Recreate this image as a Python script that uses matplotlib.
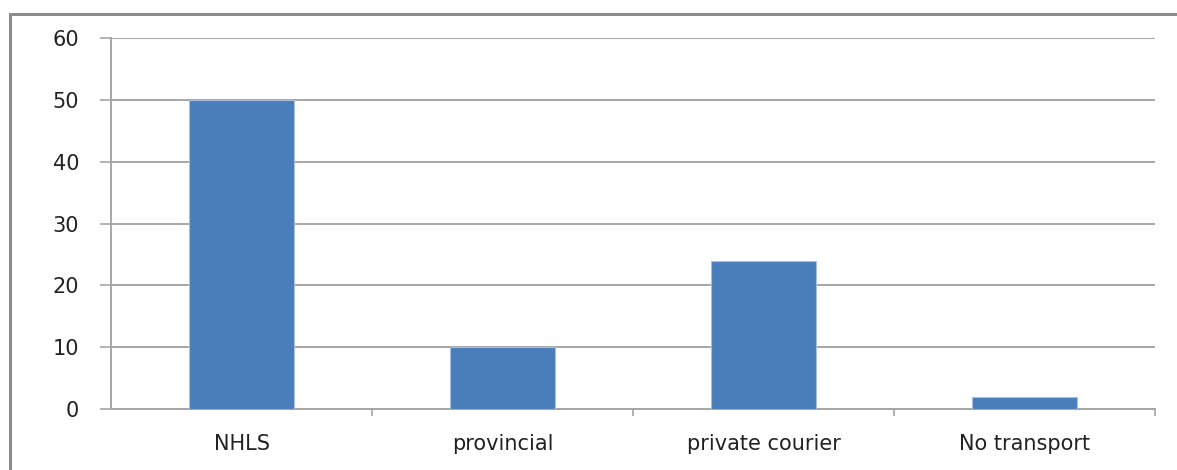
import numpy as np
import matplotlib.pyplot as plt
from matplotlib.patches import Rectangle

# data
kategori = ['NHLS', 'provincial', 'private courier', 'No transport']
nilai = [50, 10, 24, 2]
y_ticks = [0, 10, 20, 30, 40, 50, 60]

fig = plt.figure(figsize=(11.77, 4.70), dpi=100)
ax = fig.add_axes([111 / 1177, 61 / 470, 1044 / 1177, 371 / 470])

# bingkai luar (terpotong di kanan dan bawah)
fig.patches.append(Rectangle((10 / 1177, -0.1), 1.2, 0.1 + 456 / 470,
                             transform=fig.transFigure, fill=False,
                             edgecolor='#8c8c8c', linewidth=2.2, zorder=0))

x = np.arange(len(kategori))
ax.bar(x, nilai, width=0.4, color='#4a7ebb', edgecolor='#a8bfdf',
       linewidth=0.8, zorder=3)

ax.set_xlim(-0.5, len(kategori) - 0.5)
ax.set_ylim(0, 60)
ax.set_yticks(y_ticks)
ax.set_yticklabels([str(v) for v in y_ticks])
ax.grid(axis='y', color='#a6a6a6', linewidth=1.4, zorder=0)

ax.set_xticks(x)
ax.set_xticklabels(kategori)
ax.set_xticks(np.arange(len(kategori)) + 0.5, minor=True)

ax.tick_params(axis='y', length=8, width=1.2, color='#a6a6a6', pad=15,
               labelsize=15, labelcolor='#222222')
ax.tick_params(axis='x', which='major', length=0, pad=18,
               labelsize=15, labelcolor='#222222')
ax.tick_params(axis='x', which='minor', length=5, width=1.2,
               color='#a6a6a6')

for s in ['top', 'right']:
    ax.spines[s].set_visible(False)
for s in ['left', 'bottom']:
    ax.spines[s].set_color('#a6a6a6')
    ax.spines[s].set_linewidth(1.4)

fig.savefig('out.png', dpi=100)
